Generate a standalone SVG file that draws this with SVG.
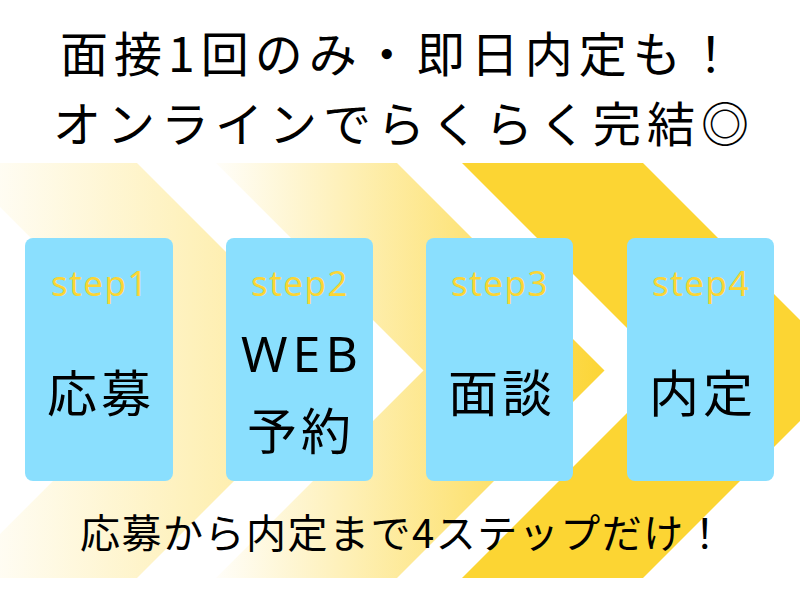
<svg xmlns="http://www.w3.org/2000/svg" width="800" height="600" viewBox="0 0 800 600">
  <defs>
    <linearGradient id="g1" gradientUnits="userSpaceOnUse" x1="-44" y1="0" x2="344" y2="0">
      <stop offset="0" stop-color="#FCD535" stop-opacity="0"/>
      <stop offset="1" stop-color="#FCD535" stop-opacity="0.55"/>
    </linearGradient>
    <linearGradient id="g2" gradientUnits="userSpaceOnUse" x1="216" y1="0" x2="604" y2="0">
      <stop offset="0" stop-color="#FCD535" stop-opacity="0.03"/>
      <stop offset="1" stop-color="#FCD535" stop-opacity="1"/>
    </linearGradient>
    <style>
      .box { fill: #8ADFFE; }
      .step { font-family: "Noto Sans", "Open Sans", sans-serif; font-size: 35px; fill: #FBD535; text-anchor: middle; letter-spacing: 1.5px; }
      .lbl { font-family: "Noto Sans CJK JP", "Noto Sans", sans-serif; font-size: 50px; fill: #000; text-anchor: middle; letter-spacing: 4px; }
      .web { font-family: "Noto Sans", "Open Sans", sans-serif; font-size: 50px; fill: #000; text-anchor: middle; letter-spacing: 5px; }
      .title { font-family: "Noto Sans CJK JP", sans-serif; font-size: 48px; fill: #000; letter-spacing: 6px; }
      .foot { font-family: "Noto Sans CJK JP", sans-serif; font-size: 40px; fill: #000; letter-spacing: 1.5px; }
    </style>
  </defs>
  <rect width="800" height="600" fill="#FFFFFF"/>

  <g id="chevrons">
    <path id="chevron1" d="M-44,163 L137,163 L344.5,370.5 L137,578 L-44,578 L163.5,370.5 Z" fill="url(#g1)"/>
    <path id="chevron2" d="M216,163 L397,163 L604.5,370.5 L397,578 L216,578 L423.5,370.5 Z" fill="url(#g2)"/>
    <path id="chevron3" d="M462,163 L643,163 L850.5,370.5 L643,578 L462,578 L669.5,370.5 Z" fill="#FCD533"/>
  </g>

  <g id="title">
    <text class="title" x="60" y="72">面接1回のみ・即日内定も！</text>
    <text class="title" x="53" y="142">オンラインでらくらく完結◎</text>
  </g>

  <g id="step1">
    <rect class="box" x="25" y="238" width="148" height="243" rx="8"/>
    <text class="step" x="100" y="296">step1</text>
    <text class="lbl" x="101" y="412">応募</text>
  </g>
  <g id="step2">
    <rect class="box" x="226" y="238" width="147" height="243" rx="8"/>
    <text class="step" x="300" y="296">step2</text>
    <text class="web" x="302" y="372">WEB</text>
    <text class="lbl" x="301" y="450">予約</text>
  </g>
  <g id="step3">
    <rect class="box" x="426" y="238" width="147" height="243" rx="8"/>
    <text class="step" x="500" y="296">step3</text>
    <text class="lbl" x="502" y="412">面談</text>
  </g>
  <g id="step4">
    <rect class="box" x="627" y="238" width="147" height="243" rx="8"/>
    <text class="step" x="701" y="296">step4</text>
    <text class="lbl" x="703" y="412">内定</text>
  </g>

  <g id="footer">
    <text class="foot" x="80" y="548">応募から内定まで4ステップだけ！</text>
  </g>
</svg>
